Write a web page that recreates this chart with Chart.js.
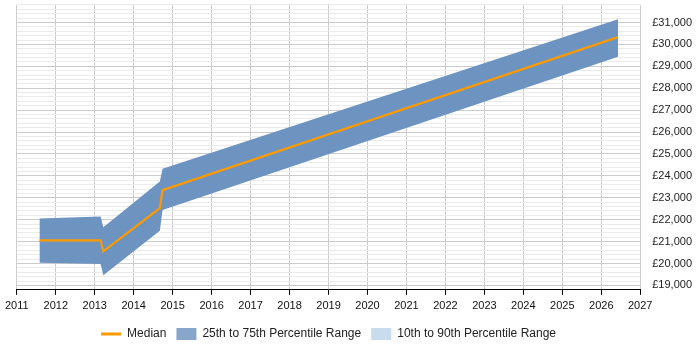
<!DOCTYPE html>
<html>
<head>
<meta charset="utf-8">
<script src="https://cdn.jsdelivr.net/npm/chart.js@4"></script>
<style>
  html, body { margin: 0; padding: 0; background: #ffffff; }
  #wrap { width: 700px; height: 350px; position: relative; }
</style>
</head>
<body>
<div id="wrap"><canvas id="c" width="700" height="350"></canvas></div>
<script>
// ---- data ----
const years   = [2011.58, 2013.15, 2013.22, 2014.67, 2014.74, 2026.43];
const p25     = [20030,   19980,   19460,   21500,   22440,   29440];
const median  = [21060,   21060,   20550,   22530,   23350,   30330];
const p75     = [22050,   22150,   21660,   23740,   24330,   31150];
const legendLabels = ['Median', '25th to 75th Percentile Range', '10th to 90th Percentile Range'];
const yMin = 18800, yMax = 31800;
const xMin = 2011, xMax = 2027;

const bandColor = '#6d94c0';
const medianColor = '#ff9900';
const FONT = 'Liberation Sans, Arial, sans-serif';

const pts = (arr) => years.map((x, i) => ({x: x, y: arr[i]}));

const ctx = document.getElementById('c').getContext('2d');
new Chart(ctx, {
  type: 'line',
  data: {
    datasets: [
      { label: 'p25', order: 2, data: pts(p25), borderWidth: 0, borderColor: 'rgba(0,0,0,0)', pointRadius: 0, fill: false, tension: 0 },
      { label: 'p75', order: 1, data: pts(p75), borderWidth: 0, borderColor: 'rgba(0,0,0,0)', pointRadius: 0, fill: '-1', backgroundColor: bandColor, tension: 0 },
      { label: legendLabels[0], order: 0, data: pts(median), borderColor: medianColor, borderWidth: 2.2, pointRadius: 0, fill: false, tension: 0 }
    ]
  },
  options: {
    responsive: false,
    animation: false,
    layout: { padding: { left: 3, right: 8, top: 0, bottom: 0 } },
    plugins: {
      tooltip: { enabled: false },
      legend: {
        position: 'bottom',
        fullSize: false,
        onClick: null,
        labels: {
          usePointStyle: true,
          pointStyleWidth: 20,
          boxHeight: 12,
          padding: 10,
          color: '#222',
          font: { family: FONT, size: 12 },
          generateLabels: () => [
            { text: legendLabels[0], pointStyle: 'line', strokeStyle: medianColor, fillStyle: medianColor, lineWidth: 3, fontColor: '#222' },
            { text: legendLabels[1], pointStyle: 'rect', fillStyle: '#87a6c9', strokeStyle: '#87a6c9', lineWidth: 0, fontColor: '#222' },
            { text: legendLabels[2], pointStyle: 'rect', fillStyle: '#c9dcee', strokeStyle: '#c9dcee', lineWidth: 0, fontColor: '#222' }
          ]
        }
      }
    },
    scales: {
      x: {
        type: 'linear',
        min: xMin, max: xMax,
        ticks: {
          stepSize: 1,
          autoSkip: false,
          maxRotation: 0,
          padding: 5,
          color: '#111',
          font: { family: FONT, size: 11 },
          callback: (v) => String(v)
        },
        grid: { color: '#cccccc', tickColor: '#000', tickLength: 5, drawTicks: true },
        border: { display: true, color: '#000', width: 1 }
      },
      y: {
        position: 'right',
        min: yMin, max: yMax,
        ticks: {
          stepSize: 200,
          autoSkip: false,
          maxTicksLimit: 200,
          padding: 0,
          color: '#222',
          font: { family: FONT, size: 11, lineHeight: 0.9 },
          callback: (v) => (v % 1000 === 0) ? '£' + v.toLocaleString('en-GB') : ''
        },
        grid: {
          color: (c) => (c.tick && c.tick.value % 1000 === 0) ? '#cccccc' : '#ebebeb',
          tickLength: 12,
          tickColor: 'rgba(0,0,0,0)',
          drawTicks: true
        },
        border: { display: false }
      }
    }
  }
});
</script>
</body>
</html>
